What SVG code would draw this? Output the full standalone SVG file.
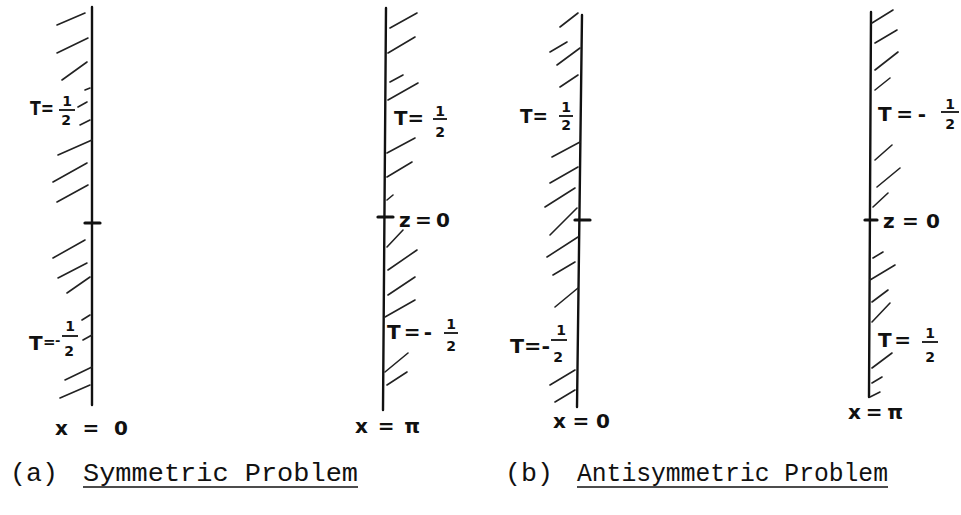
<svg xmlns="http://www.w3.org/2000/svg" width="961" height="515" viewBox="0 0 961 515">
<style>
.wall{stroke:#111;stroke-width:2.4;fill:none;stroke-linecap:round}
.tick{stroke:#111;stroke-width:3.2;fill:none;stroke-linecap:round}
.hatch{stroke:#222;stroke-width:1.6;fill:none;stroke-linecap:round}
.hw{font-family:"DejaVu Sans","Liberation Sans",sans-serif;font-weight:bold;fill:#111;font-size:20px}
.fr{font-family:"DejaVu Sans","Liberation Sans",sans-serif;font-weight:bold;fill:#111;font-size:14px;text-anchor:middle}
.bar{stroke:#111;stroke-width:1.8;fill:none}
.cap{font-family:"Liberation Mono","Courier New",monospace;font-size:25px;fill:#111}
.ul{stroke:#111;stroke-width:1.6;fill:none}
</style>
<rect width="961" height="515" fill="#fff"/>

<g id="wall-a-x0">
<path class="wall" d="M92 7L92 405"/>
<path class="tick" d="M85 223L100 223"/>
<path class="hatch" d="M57 25L85 13M57 53L88 38M62 80L87 62M85 90L90 88M78 107L87 102M80 125L90 120M58 155L92 140M53 182L87 163M57 202L88 185M53 258L85 240M58 278L87 263M67 293L90 277M82 320L90 315M83 340L92 335M65 380L92 367M60 398L90 385"/>
<text class="hw" x="30" y="115" textLength="24" lengthAdjust="spacingAndGlyphs">T=</text>
<text class="fr" x="67" y="106">1</text><path class="bar" d="M59 110L75 110"/><text class="fr" x="66" y="125">2</text>
<text class="hw" x="29" y="350">T</text>
<text class="hw" x="43" y="347" style="font-size:15px">=</text>
<text class="hw" x="55" y="345" style="font-size:13px">-</text>
<text class="fr" x="70" y="331">1</text><path class="bar" d="M62 336L78 336"/><text class="fr" x="69" y="356">2</text>
<text class="hw" x="55" y="435" textLength="73" lengthAdjust="spacing">x = 0</text>
</g>

<g id="wall-a-xpi">
<path class="wall" d="M386 8L383 410"/>
<path class="tick" d="M378 217L393 217"/>
<path class="hatch" d="M390 28L417 13M388 53L415 37M390 82L403 75M388 100L418 83M387 153L415 138M387 177L412 162M387 200L393 195M387 247L403 230M388 270L417 250M388 295L415 277M385 317L415 300M385 372L408 353M387 385L407 372"/>
<text class="hw" x="394" y="125" textLength="30" lengthAdjust="spacingAndGlyphs">T=</text>
<text class="fr" x="440" y="116">1</text><path class="bar" d="M433 119L447 119"/><text class="fr" x="440" y="137">2</text>
<text class="hw" x="399" y="227" textLength="51" lengthAdjust="spacing">z=0</text>
<text class="hw" x="387" y="339" textLength="45" lengthAdjust="spacing">T=-</text>
<text class="fr" x="451" y="329">1</text><path class="bar" d="M444 333L458 333"/><text class="fr" x="451" y="351">2</text>
<text class="hw" x="355" y="433" textLength="65" lengthAdjust="spacing">x = π</text>
</g>

<g id="wall-b-x0">
<path class="wall" d="M582 15L577 407"/>
<path class="tick" d="M575 220L590 220"/>
<path class="hatch" d="M560 27L578 13M550 52L567 42M557 65L580 48M560 87L578 75M552 157L580 142M550 183L578 167M545 207L575 188M550 235L577 208M547 257L578 237M553 275L575 262M555 307L578 288M550 385L575 370M555 402L575 390"/>
<text class="hw" x="520" y="123" textLength="28" lengthAdjust="spacingAndGlyphs">T=</text>
<text class="fr" x="566" y="112">1</text><path class="bar" d="M559 116L573 116"/><text class="fr" x="566" y="130">2</text>
<text class="hw" x="510" y="353" textLength="40" lengthAdjust="spacingAndGlyphs">T=-</text>
<text class="fr" x="561" y="335">1</text><path class="bar" d="M551 340L567 340"/><text class="fr" x="558" y="362">2</text>
<text class="hw" x="553" y="428" textLength="57" lengthAdjust="spacing">x=0</text>
</g>

<g id="wall-b-xpi">
<path class="wall" d="M871 12L869 397"/>
<path class="tick" d="M865 220L877 220"/>
<path class="hatch" d="M872 23L893 10M875 43L897 30M875 70L898 52M875 90L890 78M875 160L892 145M877 187L900 168M873 207L888 193M873 258L883 252M870 280L895 265M872 302L888 290M872 322L890 303M872 368L892 353M872 383L882 377M870 397L880 392"/>
<text class="hw" x="878" y="121" textLength="48" lengthAdjust="spacing">T=-</text>
<text class="fr" x="950" y="109">1</text><path class="bar" d="M941 112L959 112"/><text class="fr" x="950" y="129">2</text>
<text class="hw" x="883" y="228" textLength="57" lengthAdjust="spacing">z=0</text>
<text class="hw" x="878" y="347" textLength="33" lengthAdjust="spacing">T=</text>
<text class="fr" x="930" y="338">1</text><path class="bar" d="M922 342L938 342"/><text class="fr" x="930" y="362">2</text>
<text class="hw" x="848" y="419" textLength="55" lengthAdjust="spacing">x=π</text>
</g>

<g id="caption-a">
<text class="cap" x="10" y="481" textLength="48" lengthAdjust="spacingAndGlyphs">(a)</text>
<text class="cap" x="83" y="481" textLength="275" lengthAdjust="spacingAndGlyphs">Symmetric Problem</text>
<path class="ul" d="M83 487L358 487"/>
</g>
<g id="caption-b">
<text class="cap" x="505" y="481" textLength="48" lengthAdjust="spacingAndGlyphs">(b)</text>
<text class="cap" x="577" y="481" textLength="311" lengthAdjust="spacingAndGlyphs">Antisymmetric Problem</text>
<path class="ul" d="M577 487L888 487"/>
</g>
<g id="connectors"/>
</svg>
